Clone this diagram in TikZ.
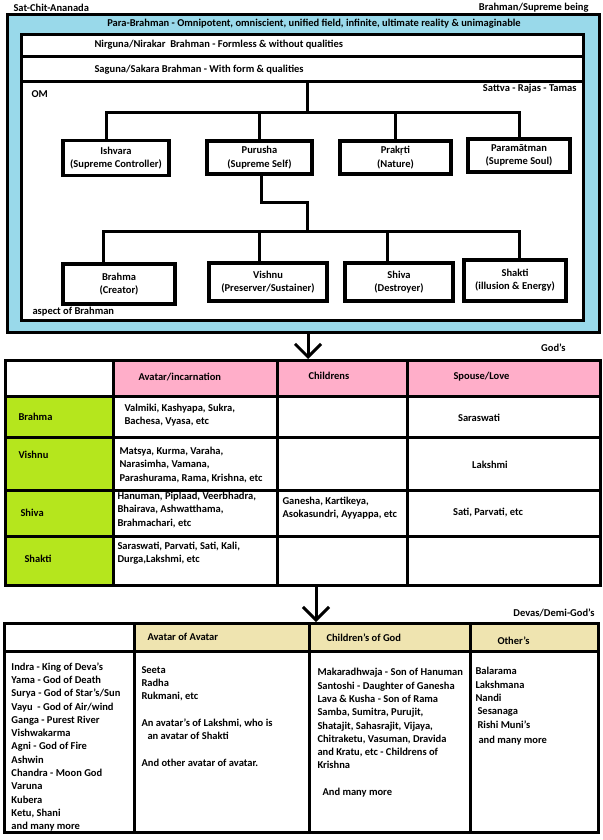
\documentclass[tikz,border=0pt]{standalone}
\usepackage{fontspec}
\setmainfont{Carlito}
\usepackage{tikz}
\usetikzlibrary{arrows.meta,positioning}
\usepackage{xcolor}
\definecolor{skyfill}{HTML}{99D9EA}
\definecolor{pinkhead}{HTML}{FFAEC9}
\definecolor{limecell}{HTML}{B5E61D}
\definecolor{tanhead}{HTML}{EFE4B0}

\begin{document}
\begin{tikzpicture}[x=1pt, y=-1pt, line width=3pt,
  txt/.style={font=\bfseries\fontsize{10.5}{13.3}\selectfont, inner sep=0pt},
  lbl/.style={txt, anchor=west, align=left},
  godbox/.style={draw, fill=white, line width=3.5pt, align=center, txt},
  link/.style={line width=3pt},
  downarrow/.style={line width=3pt, -{Straight Barb[length=13pt, width=26pt]}}]
  \useasboundingbox (0,0) rectangle (602,840);
  \fill[white] (0,0) rectangle (602,840);

  % Brahman frame
  \node[txt, anchor=west] (satchit) at (12,8) {Sat-Chit-Ananada};
  \node[txt, anchor=east] (being) at (590,8) {Brahman/Supreme being};
  \draw[fill=skyfill] (7,15) rectangle (599,332);
  \node[txt] (para) at (314,24) {Para-Brahman - Omnipotent, omniscient, unified field, infinite, ultimate reality \& unimaginable};
  \draw[fill=white] (21,35) rectangle (583,57);
  \node[lbl] (nirguna) at (93,45) {Nirguna/Nirakar\ \ Brahman - Formless \& without qualities};
  \draw[fill=white] (21,57) rectangle (583,82);
  \node[lbl] (saguna) at (93,70) {Saguna/Sakara Brahman - With form \& qualities};
  \draw[fill=white] (21,82) rectangle (583,320);
  \node[lbl] (om) at (30,94) {OM};
  \node[txt, anchor=east] (gunas) at (578,89) {Sattva - Rajas - Tamas};

  % first level
  \node[godbox, minimum width=106, minimum height=35] (ishvara) at (116,158) {Ishvara\\(Supreme Controller)};
  \node[godbox, minimum width=105, minimum height=33] (purusha) at (259.5,157.5) {Purusha\\(Supreme Self)};
  \node[godbox, minimum width=111, minimum height=33] (prakriti) at (395.5,157.5) {Prakṛti\\(Nature)};
  \node[godbox, minimum width=102, minimum height=33] (paramatman) at (519,155.5) {Paramātman\\(Supreme Soul)};
  \coordinate (omtop) at (307,82);
  \coordinate (hub) at (307,113);
  \draw[link] (omtop) -- (hub);
  \draw[link] ([xshift=-10pt]ishvara.north) |- (paramatman.north |- hub) -- (paramatman.north);
  \draw[link] (purusha.north) -- (purusha.north |- hub);
  \draw[link] (prakriti.north) -- (prakriti.north |- hub);

  % second level
  \node[godbox, minimum width=112, minimum height=40] (brahma) at (119,284) {Brahma\\(Creator)};
  \node[godbox, minimum width=118, minimum height=38] (vishnu) at (268,282) {Vishnu\\(Preserver/Sustainer)};
  \node[godbox, minimum width=108, minimum height=38] (shiva) at (399,282) {Shiva\\(Destroyer)};
  \node[godbox, minimum width=102, minimum height=41] (shakti) at (515,280.5) {Shakti\\(illusion \& Energy)};
  \coordinate (bend) at (307,202);
  \coordinate (hubtwo) at (307,231);
  \draw[link] ([xshift=2pt]purusha.south) |- (bend) -- (hubtwo);
  \draw[link] ([xshift=-16pt]brahma.north) |- ([xshift=4pt]shakti.north |- hubtwo) -- ([xshift=4pt]shakti.north);
  \draw[link] ([xshift=-9pt]vishnu.north) -- ([xshift=-9pt]vishnu.north |- hubtwo);
  \draw[link] ([xshift=-12pt]shiva.north) -- ([xshift=-12pt]shiva.north |- hubtwo);
  \node[lbl] (aspect) at (31,312) {aspect of Brahman};

  % God's table
  \coordinate (skyfoot) at (308,333);
  \coordinate (godtop) at (308,359);
  \draw[downarrow] (skyfoot) -- (godtop);
  \node[txt, anchor=east] (gods) at (567,348) {God's};
  \fill[pinkhead] (113,360) rectangle (600,396);
  \fill[limecell] (5,396) rectangle (113,585);
  \draw (5,360) rectangle (600,585);
  \foreach \y in {396,437,490,536} \draw (5,\y) -- (600,\y);
  \foreach \x in {113,277,407} \draw (\x,360) -- (\x,585);
  \node[lbl] (avatarhead) at (137,377) {Avatar/incarnation};
  \node[lbl] (childhead) at (307,376) {Childrens};
  \node[lbl] (spousehead) at (452,377) {Spouse/Love};
  \node[lbl] (rowbrahma) at (17,417) {Brahma};
  \node[lbl] (avbrahma) at (123,415) {Valmiki, Kashyapa, Sukra,\\Bachesa, Vyasa, etc};
  \node[txt] (spbrahma) at (479,418) {Saraswati};
  \node[lbl] (rowvishnu) at (17,455) {Vishnu};
  \node[lbl] (avvishnu) at (118,465) {Matsya, Kurma, Varaha,\\Narasimha, Vamana,\\Parashurama, Rama, Krishna, etc};
  \node[txt] (spvishnu) at (490,465) {Lakshmi};
  \node[lbl] (rowshiva) at (19,513) {Shiva};
  \node[lbl] (avshiva) at (116,510) {Hanuman, Piplaad, Veerbhadra,\\Bhairava, Ashwatthama,\\Brahmachari, etc};
  \node[lbl] (chshiva) at (281,508) {Ganesha, Kartikeya,\\Asokasundri, Ayyappa, etc};
  \node[txt] (spshiva) at (488,513) {Sati, Parvati, etc};
  \node[lbl] (rowshakti) at (23,559) {Shakti};
  \node[lbl] (avshakti) at (116,553) {Saraswati, Parvati, Sati, Kali,\\Durga,Lakshmi, etc};

  % Devas table
  \coordinate (godfoot) at (316,586);
  \coordinate (devatop) at (316,622);
  \draw[downarrow] (godfoot) -- (devatop);
  \node[txt, anchor=east] (devas) at (596,613) {Devas/Demi-God's};
  \fill[tanhead] (134,623) rectangle (598,651);
  \draw (4,623) rectangle (598,832);
  \draw (4,651) -- (598,651);
  \foreach \x in {134,309,470} \draw (\x,623) -- (\x,832);
  \node[lbl] (avavhead) at (146,637) {Avatar of Avatar};
  \node[lbl] (chgodhead) at (325,638) {Children's of God};
  \node[lbl] (othershead) at (496,641) {Other's};
  \node[lbl, anchor=north west] (devalist) at (10,661) {Indra - King of Deva's\\Yama - God of Death\\Surya - God of Star's/Sun\\Vayu\ \ - God of Air/wind\\Ganga - Purest River\\Vishwakarma\\Agni - God of Fire\\Ashwin\\Chandra - Moon God\\Varuna\\Kubera\\Ketu, Shani\\and many more};
  \node[lbl, anchor=north west] (avavlist) at (140,665) {Seeta\\Radha\\Rukmani, etc\\[13.3pt]An avatar's of Lakshmi, who is\\\hspace*{6pt}an avatar of Shakti\\[13.3pt]And other avatar of avatar.};
  \node[lbl, anchor=north west] (chgodlist) at (316,667) {Makaradhwaja - Son of Hanuman\\Santoshi - Daughter of Ganesha\\Lava \& Kusha - Son of Rama\\Samba, Sumitra, Purujit,\\Shatajit, Sahasrajit, Vijaya,\\Chitraketu, Vasuman, Dravida\\and Kratu, etc - Childrens of\\Krishna\\[13.3pt]\hspace*{5pt}And many more};
  \node[lbl, anchor=north west] (otherslist) at (474,666) {Balarama\\Lakshmana\\Nandi\\\hspace*{2pt}Sesanaga\\\hspace*{2pt}Rishi Muni's\\[2pt]\hspace*{3pt}and many more};
\end{tikzpicture}
\end{document}
